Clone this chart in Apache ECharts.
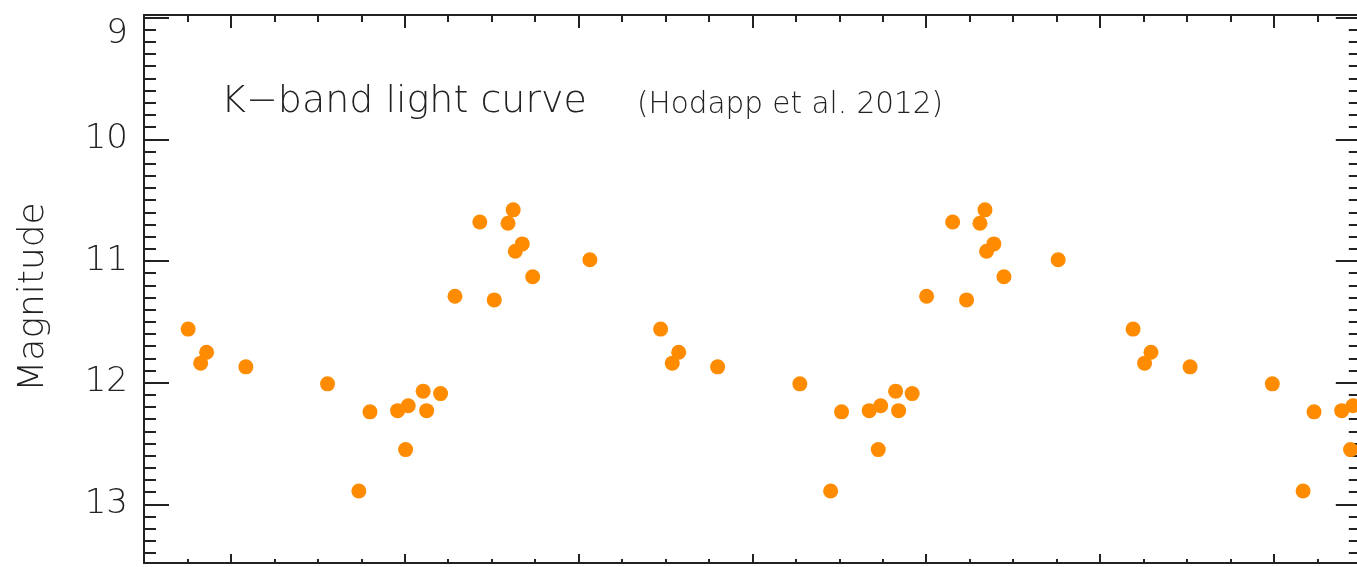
<!DOCTYPE html>
<html>
<head>
<meta charset="utf-8">
<script src="https://cdn.jsdelivr.net/npm/echarts@6/dist/echarts.min.js"></script>
<style>
html,body{margin:0;padding:0;background:#fff;}
#chart{width:1357px;height:567px;}
</style>
</head>
<body>
<div id="chart"></div>
<script>
// ---- data (x in arbitrary time units, major tick = 1) ----
const cycle1X = [-0.246,-0.140,-0.174,0.086,0.556,0.736,0.800,0.959,1.020,1.005,1.106,1.126,1.206,1.289,1.432,1.515,1.594,1.624,1.636,1.676,1.736,2.065];
const cycle1Mag = [11.56,11.75,11.84,11.87,12.01,12.89,12.24,12.23,12.19,12.55,12.07,12.23,12.09,11.29,10.68,11.32,10.69,10.58,10.92,10.86,11.13,10.99];
const cycle2X = [2.472,2.576,2.539,2.800,3.273,3.450,3.513,3.672,3.738,3.724,3.824,3.841,3.919,4.002,4.152,4.232,4.309,4.338,4.347,4.389,4.447,4.759];
const cycle2Mag = [11.56,11.75,11.84,11.87,12.01,12.89,12.24,12.23,12.19,12.55,12.07,12.23,12.09,11.29,10.68,11.32,10.69,10.58,10.92,10.86,11.13,10.99];
const cycle3X = [5.190,5.293,5.256,5.518,5.991,6.168,6.231,6.390,6.455,6.441];
const cycle3Mag = [11.56,11.75,11.84,11.87,12.01,12.89,12.24,12.23,12.19,12.55];

const yTickLabels = [10,11,12,13];
const yTopLabel = [9];
const yMajorTicks = [9,10,11,12,13];
const xMajorTicks = [0,1,2,3,4,5,6];

const titleText = 'K\u2212band light curve';
const sourceText = '(Hodapp et al. 2012)';
const yName = 'Magnitude';

// minor tick positions
const xMinorTicks = [];
for (let i = -1; i <= 25; i++) { const v = Math.round(i*25)/100; if (i % 4 !== 0) xMinorTicks.push(v); }
const yMinorTicks = [];
for (let i = 90; i <= 134; i++) { if (i % 10 !== 0) yMinorTicks.push(i/10); }

const X_MIN = -0.5, X_MAX = 6.5, Y_MIN = 8.979, Y_MAX = 13.482;
const INK = '#222';
const FONT = '"DejaVu Sans", sans-serif';

function xAx(pos, ticks, len, line) {
  return {
    type: 'value', position: pos, min: X_MIN, max: X_MAX, gridIndex: 0,
    axisLine: { show: line, onZero: false, lineStyle: { color: INK, width: 2 } },
    axisTick: { show: true, inside: true, length: len, customValues: ticks, lineStyle: { color: INK, width: 2 } },
    axisLabel: { show: false }, splitLine: { show: false }
  };
}
function yAx(pos, ticks, len, line, extra) {
  return Object.assign({
    type: 'value', position: pos, min: Y_MIN, max: Y_MAX, inverse: true, gridIndex: 0,
    axisLine: { show: line, onZero: false, lineStyle: { color: INK, width: 2 } },
    axisTick: { show: len > 0, inside: true, length: len, customValues: ticks, lineStyle: { color: INK, width: 2 } },
    axisLabel: { show: false }, splitLine: { show: false }
  }, extra || {});
}

const scatterStyle = { symbol: 'circle', symbolSize: 15, itemStyle: { color: '#ff8c00', opacity: 1 }, xAxisIndex: 0, yAxisIndex: 0 };
function pts(xs, ys) { return xs.map((x, i) => [x, ys[i]]); }

const chart = echarts.init(document.getElementById('chart'), null, { renderer: 'canvas' });
chart.setOption({
  animation: false,
  backgroundColor: '#fff',
  grid: { left: 144, top: 15, width: 1216.8, height: 548, containLabel: false, outerBoundsMode: 'none' },
  title: [
    { text: titleText, left: 216, top: 78, textStyle: { fontFamily: FONT, fontSize: 38, fontWeight: 200, color: INK } },
    { text: sourceText, left: 632, top: 85, textStyle: { fontFamily: FONT, fontSize: 29.5, fontWeight: 200, color: INK } }
  ],
  xAxis: [
    xAx('bottom', xMajorTicks, 9, true),
    xAx('bottom', xMinorTicks, 4, false),
    xAx('top', xMajorTicks, 13, true),
    xAx('top', xMinorTicks, 7, false)
  ],
  yAxis: [
    yAx('left', yMajorTicks, 25, true, {
      name: yName, nameLocation: 'middle', nameRotate: 90, nameGap: 92,
      nameTextStyle: { fontFamily: FONT, fontSize: 36, fontWeight: 200, color: INK, padding: [0, 16, 0, 0] },
      axisLabel: { show: true, customValues: yTickLabels, margin: 16, fontFamily: FONT, fontSize: 34, fontWeight: 200, color: INK }
    }),
    yAx('left', yMinorTicks, 12, false),
    yAx('right', yMajorTicks, 25, true),
    yAx('right', yMinorTicks, 12, false),
    yAx('left', [], 0, false, {
      axisLabel: { show: true, customValues: yTopLabel, margin: 16, verticalAlign: 'top', fontFamily: FONT, fontSize: 34, fontWeight: 200, color: INK }
    })
  ],
  series: [
    Object.assign({ type: 'scatter', data: pts(cycle1X, cycle1Mag) }, scatterStyle),
    Object.assign({ type: 'scatter', data: pts(cycle2X, cycle2Mag) }, scatterStyle),
    Object.assign({ type: 'scatter', data: pts(cycle3X, cycle3Mag) }, scatterStyle)
  ]
});
</script>
</body>
</html>
